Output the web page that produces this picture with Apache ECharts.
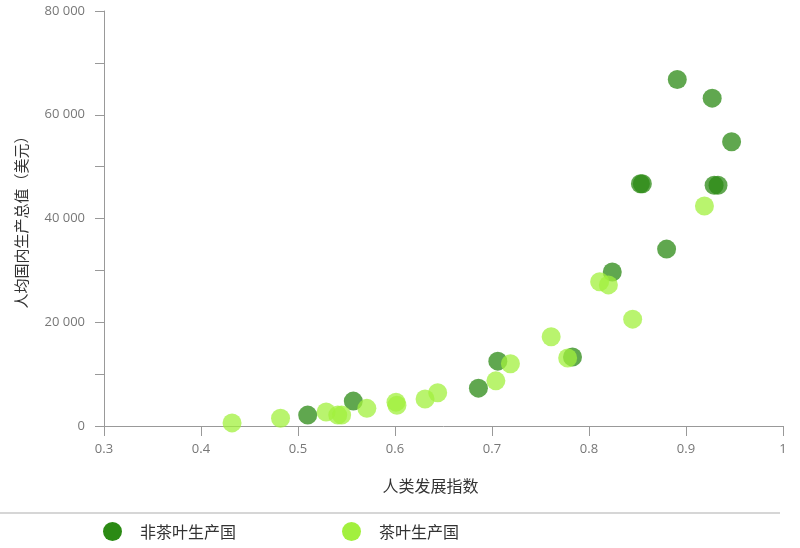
<!DOCTYPE html>
<html>
<head>
<meta charset="utf-8">
<script src="https://cdn.jsdelivr.net/npm/echarts@6/dist/echarts.min.js"></script>
<style>
html,body{margin:0;padding:0;background:#fff;}
#chart{width:800px;height:548px;}
</style>
</head>
<body>
<div id="chart"></div>
<script>
// Series names
const seriesNames = ['非茶叶生产国', '茶叶生产国'];
// [人类发展指数, 人均国内生产总值]
const nonTeaProducers = [
  [0.510, 2100], [0.557, 4800], [0.686, 7300], [0.706, 12500],
  [0.783, 13300], [0.824, 29700], [0.853, 46700], [0.855, 46700],
  [0.880, 34100], [0.891, 66800], [0.927, 63200], [0.929, 46400],
  [0.933, 46400], [0.947, 54800]
];
const teaProducers = [
  [0.432, 600], [0.482, 1500], [0.529, 2700], [0.541, 2100],
  [0.545, 2100], [0.571, 3400], [0.601, 4600], [0.602, 4000],
  [0.631, 5200], [0.644, 6400], [0.704, 8700], [0.719, 12000],
  [0.761, 17200], [0.778, 13100], [0.811, 27800], [0.820, 27200],
  [0.845, 20600], [0.919, 42400]
];
const xAxisName = '人类发展指数';
const yAxisName = '人均国内生产总值（美元）';
const colors = ['#2b8a14', '#a2f03e'];

function fmtThousands(v) {
  return String(v).replace(/\B(?=(\d{3})+(?!\d))/g, ' ');
}

const chart = echarts.init(document.getElementById('chart'));
chart.setOption({
  animation: false,
  grid: {left: 104, right: 17, top: 11, bottom: 122, containLabel: false},
  xAxis: {
    type: 'value', min: 0.3, max: 1, interval: 0.1,
    name: xAxisName, nameLocation: 'middle', nameGap: 52,
    nameTextStyle: {fontSize: 16, color: '#333', padding: [0, 26, 0, 0], fontFamily: 'Noto Sans CJK SC'},
    axisLine: {lineStyle: {color: '#999', width: 1}},
    axisTick: {show: true, length: 10, lineStyle: {color: '#999'}},
    axisLabel: {color: '#777', fontSize: 13, margin: 17, fontFamily: 'Open Sans',
      formatter: v => String(Math.round(v * 10) / 10)},
    splitLine: {show: false}
  },
  yAxis: {
    type: 'value', min: 0, max: 80000, interval: 10000,
    name: yAxisName, nameLocation: 'middle', nameGap: 75, nameRotate: 90,
    nameTextStyle: {fontSize: 15, color: '#333', fontFamily: 'Noto Sans CJK SC'},
    axisLine: {show: true, lineStyle: {color: '#999', width: 1}},
    axisTick: {show: true, length: 9, lineStyle: {color: '#999'}},
    axisLabel: {color: '#777', fontSize: 13, margin: 19, fontFamily: 'Open Sans',
      formatter: v => (v % 20000 === 0 ? fmtThousands(v) : '')},
    splitLine: {show: false}
  },
  legend: {
    left: 103, top: 522, padding: 0, itemWidth: 19, itemHeight: 19, itemGap: 106,
    icon: 'circle',
    itemStyle: {opacity: 1},
    textStyle: {fontSize: 16, color: '#333', padding: [0, 0, 0, 13], fontFamily: 'Noto Sans CJK SC'},
    data: seriesNames
  },
  graphic: [{
    type: 'line', shape: {x1: 0, y1: 513, x2: 780, y2: 513},
    style: {stroke: '#d6d6d6', lineWidth: 2}, silent: true
  }],
  series: [
    {name: seriesNames[0], type: 'scatter', data: nonTeaProducers, symbolSize: 19,
      itemStyle: {color: colors[0], opacity: 0.75}},
    {name: seriesNames[1], type: 'scatter', data: teaProducers, symbolSize: 19,
      itemStyle: {color: colors[1], opacity: 0.75}}
  ]
});
</script>
</body>
</html>
